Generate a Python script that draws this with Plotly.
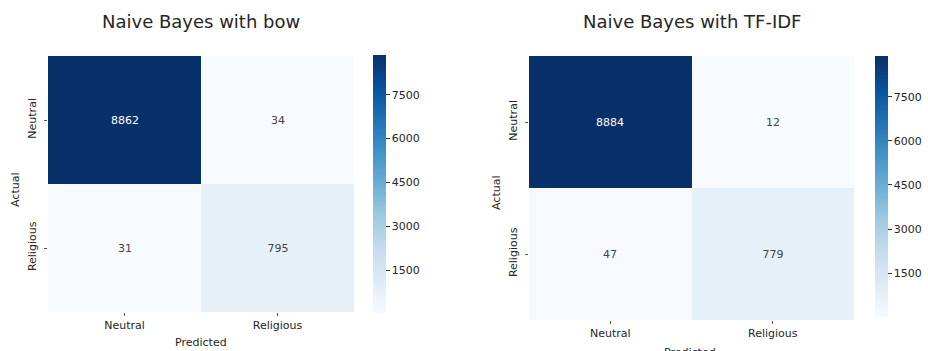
import plotly.graph_objects as go

# Confusion matrices for the two Naive Bayes models
labels = ["Neutral", "Religious"]
bow_counts = [[8862, 34], [31, 795]]
tfidf_counts = [[8884, 12], [47, 779]]
cbar_ticks = [1500, 3000, 4500, 6000, 7500]
titles = ["Naive Bayes with bow", "Naive Bayes with TF-IDF"]

W, H = 928, 351
FONT = "DejaVu Sans"
TXT = "#262626"


def px_x(v):
    return v / W


def px_y(v):
    return 1 - v / H


fig = go.Figure()

panels = [
    # (counts, x-domain px, y-domain px, colorbar x px, colorbar y px)
    (bow_counts, (48, 354), (56, 312), 373, (55, 313)),
    (tfidf_counts, (529, 854), (56, 320), 875, (56, 317)),
]

for i, (counts, (x0, x1), (y0, y1), cbx, (cb0, cb1)) in enumerate(panels):
    sfx = "" if i == 0 else "2"
    flat = [v for row in counts for v in row]
    fig.add_trace(go.Heatmap(
        z=counts, x=labels, y=labels,
        xaxis="x" + sfx, yaxis="y" + sfx,
        colorscale="Blues", zmin=min(flat), zmax=max(flat),
        texttemplate="%{z}", textfont=dict(size=11, family=FONT),
        xgap=0, ygap=0, hoverinfo="z",
        colorbar=dict(
            x=px_x(cbx), xanchor="left", xpad=0, ypad=0,
            thickness=13, thicknessmode="pixels",
            len=cb1 - cb0, lenmode="pixels",
            y=px_y((cb0 + cb1) / 2), yanchor="middle",
            tickvals=cbar_ticks, ticks="outside", ticklen=4, tickcolor="#333",
            tickfont=dict(size=11, family=FONT, color=TXT),
            outlinewidth=0,
        ),
    ))
    fig.layout["xaxis" + sfx] = dict(
        domain=[px_x(x0), px_x(x1)], anchor="y" + sfx,
        ticks="outside", ticklen=3, tickcolor="#555",
        tickfont=dict(size=11, family=FONT, color=TXT),
        showgrid=False, zeroline=False, showline=False, automargin=False,
    )
    fig.layout["yaxis" + sfx] = dict(
        domain=[px_y(y1), px_y(y0)], anchor="x" + sfx,
        autorange="reversed", tickangle=-90, ticklabelstandoff=4,
        ticks="outside", ticklen=3, tickcolor="#555",
        tickfont=dict(size=11, family=FONT, color=TXT),
        showgrid=False, zeroline=False, showline=False, automargin=False,
    )
    # panel title
    fig.add_annotation(
        text=titles[i], x=px_x((x0 + x1) / 2), y=px_y(22),
        xref="paper", yref="paper", xanchor="center", yanchor="middle",
        showarrow=False, font=dict(size=18, family=FONT, color=TXT),
    )


def axis_title(text, x, y, angle=0):
    fig.add_annotation(text=text, x=px_x(x), y=px_y(y), xref="paper", yref="paper",
                       xanchor="center", yanchor="middle", textangle=angle,
                       showarrow=False, font=dict(size=11, family=FONT, color=TXT))


axis_title("Predicted", 201, 342)
axis_title("Predicted", 690, 352)
axis_title("Actual", 15, 190, -90)
axis_title("Actual", 496, 193, -90)

fig.update_layout(
    width=W, height=H, margin=dict(l=0, r=0, t=0, b=0, autoexpand=False),
    paper_bgcolor="white", plot_bgcolor="white",
    font=dict(family=FONT),
)

fig.write_html("out.html")
